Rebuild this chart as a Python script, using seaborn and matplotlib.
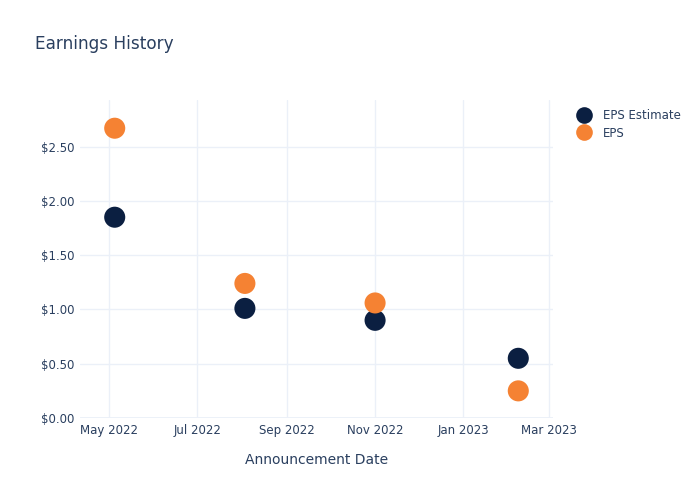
import matplotlib
matplotlib.use("Agg")
import matplotlib.pyplot as plt
import matplotlib.dates as mdates
from matplotlib.ticker import FuncFormatter
import seaborn as sns
import pandas as pd

dates = ["2022-05-05", "2022-08-03", "2022-11-01", "2023-02-08"]
eps_estimate = [1.85, 1.01, 0.90, 0.55]
eps_actual = [2.67, 1.24, 1.06, 0.25]
series_names = ["EPS Estimate", "EPS"]
colors = ["#0b1f41", "#f58233"]

df = pd.DataFrame({
    "date": pd.to_datetime(dates * 2),
    "value": eps_estimate + eps_actual,
    "series": [series_names[0]] * len(dates) + [series_names[1]] * len(dates),
})

sns.set_theme(style="white")
plt.rcParams['font.family'] = ['DejaVu Sans']
text_color = "#2a3f5f"
grid_color = "#ebf0f8"

fig = plt.figure(figsize=(7, 5), dpi=100)
ax = fig.add_axes([80/700, 82/500, (553-80)/700, (418-100)/500])

sns.scatterplot(data=df, x="date", y="value", hue="series",
                palette=dict(zip(series_names, colors)), s=230,
                linewidth=0, ax=ax, zorder=3)

ax.set_xlim(pd.Timestamp("2022-04-11"), pd.Timestamp("2023-03-04"))
ax.set_ylim(0, 2.93)
ax.xaxis.set_major_locator(mdates.MonthLocator(bymonth=[1, 3, 5, 7, 9, 11]))
ax.xaxis.set_major_formatter(mdates.DateFormatter("%b %Y"))
ax.set_yticks([0, 0.5, 1.0, 1.5, 2.0, 2.5])
ax.yaxis.set_major_formatter(FuncFormatter(lambda v, p: f"${v:.2f}"))

ax.grid(True, color=grid_color, linewidth=1)
ax.set_axisbelow(True)
for s in ax.spines.values():
    s.set_visible(False)
ax.axhline(0, color=grid_color, linewidth=2, zorder=1)
ax.tick_params(axis="both", length=0, labelsize=8.5, colors=text_color, pad=4)

ax.set_xlabel("Announcement Date", fontsize=10, color=text_color, labelpad=12)
ax.set_ylabel("")

fig.text(35/700, 1 - 44/500, "Earnings History", fontsize=12.2, color=text_color,
         va="center", ha="left")

leg = ax.legend(loc="upper left", bbox_to_anchor=(1.02, 1.0), frameon=False,
                fontsize=8.5, handletextpad=0.6, labelspacing=0.35,
                borderaxespad=0.4, markerscale=1.0)
for t in leg.get_texts():
    t.set_color(text_color)
for h in leg.legend_handles:
    h.set_markersize(12)

fig.savefig("out.png", dpi=100)
